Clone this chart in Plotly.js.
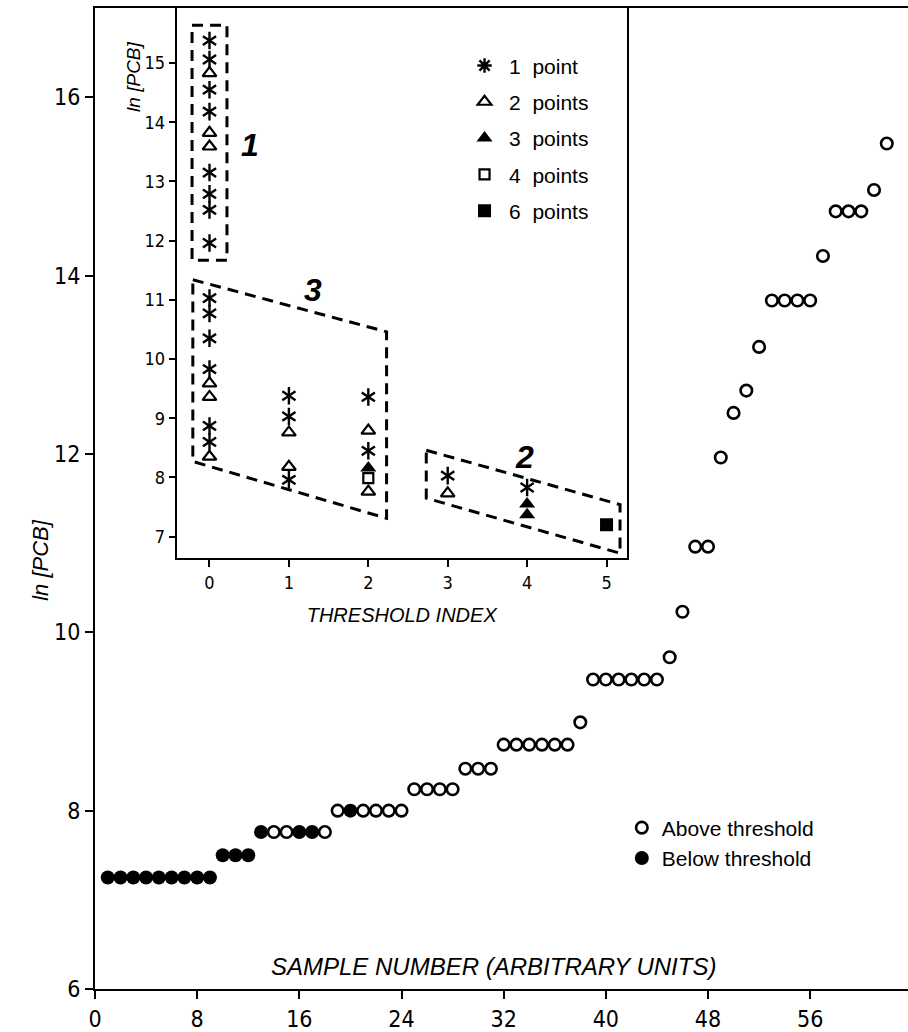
<!DOCTYPE html>
<html>
<head>
<meta charset="utf-8">
<script src="https://cdn.plot.ly/plotly-3.0.1.min.js"></script>
<style>html,body{margin:0;padding:0;background:#fff}#chart{width:908px;height:1032px}</style>
</head>
<body>
<div id="chart"></div>
<script>
// ---------- main chart data ----------
const samples = [1,2,3,4,5,6,7,8,9,10,11,12,13,14,15,16,17,18,19,20,21,22,23,24,25,26,27,28,29,30,31,32,33,34,35,36,37,38,39,40,41,42,43,44,45,46,47,48,49,50,51,52,53,54,55,56,57,58,59,60,61,62];
const lnPCB = [7.25,7.25,7.25,7.25,7.25,7.25,7.25,7.25,7.25,7.50,7.50,7.50,7.76,7.76,7.76,7.76,7.76,7.76,8.00,8.00,8.00,8.00,8.00,8.00,8.24,8.24,8.24,8.24,8.47,8.47,8.47,8.74,8.74,8.74,8.74,8.74,8.74,8.99,9.47,9.47,9.47,9.47,9.47,9.47,9.72,10.23,10.96,10.96,11.96,12.46,12.71,13.20,13.72,13.72,13.72,13.72,14.22,14.72,14.72,14.72,14.96,15.48];
const belowThreshold = [1,1,1,1,1,1,1,1,1,1,1,1,1,0,0,1,1,0,0,1,0,0,0,0,0,0,0,0,0,0,0,0,0,0,0,0,0,0,0,0,0,0,0,0,0,0,0,0,0,0,0,0,0,0,0,0,0,0,0,0,0,0];
const mainLegend = ['Above threshold', 'Below threshold'];
const xTicks = [0,8,16,24,32,40,48,56];
const yTicks = [6,8,10,12,14,16];

// ---------- inset data (threshold index vs ln[PCB]) ----------
const star1Idx = [0,0,0,0,0,0,0,0,0,0,0,0,0,0,1,1,1,2,2,3,4];
const star1Val = [15.38,15.06,14.55,14.18,13.15,12.79,12.52,11.96,11.03,10.77,10.35,9.83,8.87,8.60,9.38,9.03,7.96,9.36,8.45,8.03,7.83];
const tri2Idx = [0,0,0,0,0,0,1,1,2,2,3];
const tri2Val = [14.83,13.82,13.59,9.59,9.36,8.35,8.76,8.18,8.79,7.76,7.73];
const tri3Idx = [2,4,4];
const tri3Val = [8.16,7.55,7.37];
const sq4Idx = [2];
const sq4Val = [7.99];
const sq6Idx = [5];
const sq6Val = [7.20];
const insetLegend = ['1  point','2  points','3  points','4  points','6  points'];
const insetXTicks = [0,1,2,3,4,5];
const insetYTicks = [7,8,9,10,11,12,13,14,15];
const groupLabels = ['1','3','2'];

// ---------- build traces ----------
const aboveX=[], aboveY=[], belowX=[], belowY=[];
samples.forEach((s,i)=>{ if(belowThreshold[i]){belowX.push(s);belowY.push(lnPCB[i]);} else {aboveX.push(s);aboveY.push(lnPCB[i]);} });

const BLK = '#000';
const SANS = '"Liberation Sans",Arial,sans-serif';
const COND = '"Liberation Sans Narrow","DejaVu Sans Condensed","Liberation Sans",sans-serif';
const tickFont = {family:COND, size:23, color:BLK};
const insetTickFont = {family:COND, size:18, color:BLK};
const legendFont = {family:SANS, size:21, color:BLK};

const traces = [
  {type:'scatter', mode:'markers', x:aboveX, y:aboveY, name:mainLegend[0], legend:'legend',
   marker:{symbol:'circle-open', size:11.5, color:BLK, line:{width:2.6, color:BLK}}, xaxis:'x', yaxis:'y', cliponaxis:false},
  {type:'scatter', mode:'markers', x:belowX, y:belowY, name:mainLegend[1], legend:'legend',
   marker:{symbol:'circle', size:14, color:BLK, line:{width:0}}, xaxis:'x', yaxis:'y', cliponaxis:false},
  // six-armed asterisk = y-up + y-down
  {type:'scatter', mode:'markers', x:star1Idx, y:star1Val, showlegend:false, legend:'legend2',
   marker:{symbol:'y-up-open', size:11, color:BLK, line:{width:2.4, color:BLK}}, xaxis:'x2', yaxis:'y2'},
  {type:'scatter', mode:'markers', x:star1Idx, y:star1Val, showlegend:false, legend:'legend2',
   marker:{symbol:'y-down-open', size:11, color:BLK, line:{width:2.4, color:BLK}}, xaxis:'x2', yaxis:'y2'},
  {type:'scatter', mode:'markers', x:[null], y:[null], name:insetLegend[0], legend:'legend2', legendgroup:'a',
   marker:{symbol:'asterisk-open', size:12, color:BLK, line:{width:2.4, color:BLK}}, xaxis:'x2', yaxis:'y2'},
  {type:'scatter', mode:'markers', x:tri2Idx, y:tri2Val, name:insetLegend[1], legend:'legend2', legendgroup:'b',
   marker:{symbol:'triangle-up-open', size:12, color:BLK, line:{width:2.2, color:BLK}}, xaxis:'x2', yaxis:'y2'},
  {type:'scatter', mode:'markers', x:tri3Idx, y:tri3Val, name:insetLegend[2], legend:'legend2', legendgroup:'c',
   marker:{symbol:'triangle-up', size:14, color:BLK, line:{width:0}}, xaxis:'x2', yaxis:'y2'},
  {type:'scatter', mode:'markers', x:sq4Idx, y:sq4Val, name:insetLegend[3], legend:'legend2', legendgroup:'d',
   marker:{symbol:'square-open', size:10, color:BLK, line:{width:2.2, color:BLK}}, xaxis:'x2', yaxis:'y2'},
  {type:'scatter', mode:'markers', x:sq6Idx, y:sq6Val, name:insetLegend[4], legend:'legend2', legendgroup:'e',
   marker:{symbol:'square', size:13, color:BLK, line:{width:0}}, xaxis:'x2', yaxis:'y2'}
];

// dashed group boxes (inset data coordinates)
const dashLine = {color:BLK, width:3, dash:'11px,7px'};
const box1 = 'M -0.22,15.64 L 0.22,15.64 L 0.22,11.67 L -0.22,11.67 Z';
const box3 = 'M -0.21,11.34 L 2.23,10.46 L 2.23,7.31 L -0.21,8.27 Z';
const box2 = 'M 2.73,8.46 L 5.17,7.54 L 5.17,6.72 L 2.73,7.65 Z';
const labelPos = [[0.51,13.62],[1.30,11.16],[3.97,8.35]];

const layout = {
  width:908, height:1032,
  margin:{l:95, r:0, t:8, b:43, autoexpand:false},
  paper_bgcolor:'#fff', plot_bgcolor:'#fff',
  showlegend:true,
  xaxis:{range:[0,63.66], tickvals:xTicks, ticks:'outside', ticklen:8, tickwidth:2, tickcolor:BLK,
         showline:true, linewidth:2, linecolor:BLK, mirror:true, showgrid:false, zeroline:false,
         tickfont:tickFont, fixedrange:true},
  yaxis:{range:[6,17], tickvals:yTicks, ticks:'outside', ticklen:8, tickwidth:2, tickcolor:BLK,
         showline:true, linewidth:2, linecolor:BLK, showgrid:false, zeroline:false,
         tickfont:tickFont, fixedrange:true},
  xaxis2:{domain:[0.1005,0.654], anchor:'y2', range:[-0.413,5.254], tickvals:insetXTicks, ticks:'outside', ticklen:7, tickwidth:2,
          tickcolor:BLK, showline:true, linewidth:2, linecolor:BLK, mirror:true, showgrid:false, zeroline:false,
          tickfont:insetTickFont, title:{text:'THRESHOLD INDEX', font:{family:SANS, size:20, color:BLK, style:'italic'}, standoff:16}},
  yaxis2:{domain:[0.4394,1], anchor:'x2', range:[6.64,15.93], tickvals:insetYTicks, ticks:'outside', ticklen:6, tickwidth:2,
          tickcolor:BLK, showline:true, linewidth:2, linecolor:BLK, mirror:true, showgrid:false, zeroline:false,
          tickfont:insetTickFont},
  legend:{x:0.648, y:0.185, xanchor:'left', yanchor:'top', bgcolor:'rgba(0,0,0,0)', borderwidth:0,
          font:legendFont, traceorder:'normal', tracegroupgap:0},
  legend2:{x:0.449, y:0.962, xanchor:'left', yanchor:'top', bgcolor:'rgba(0,0,0,0)', borderwidth:0, itemwidth:39,
          font:legendFont, traceorder:'grouped', tracegroupgap:6},
  shapes:[
    {type:'path', xref:'x2', yref:'y2', path:box1, line:dashLine},
    {type:'path', xref:'x2', yref:'y2', path:box3, line:dashLine},
    {type:'path', xref:'x2', yref:'y2', path:box2, line:dashLine}
  ],
  annotations:[
    {xref:'paper', yref:'paper', x:0.49, y:0.023, xanchor:'center', yanchor:'middle', showarrow:false,
     text:'SAMPLE NUMBER (ARBITRARY UNITS)', font:{family:SANS, size:24, color:BLK, style:'italic'}},
    {xref:'paper', yref:'paper', x:-0.067, y:0.437, xanchor:'center', yanchor:'middle', showarrow:false, textangle:-90,
     text:'ln [PCB]', font:{family:SANS, size:22, color:BLK, style:'italic'}},
    {xref:'paper', yref:'paper', x:0.047, y:0.93, xanchor:'center', yanchor:'middle', showarrow:false, textangle:-90,
     text:'ln [PCB]', font:{family:SANS, size:19, color:BLK, style:'italic'}}
  ].concat(groupLabels.map((t,i)=>({xref:'x2', yref:'y2', x:labelPos[i][0], y:labelPos[i][1], showarrow:false,
     text:t, font:{family:SANS, size:32, color:BLK, style:'italic', weight:'bold'}})))
};

Plotly.newPlot('chart', traces, layout, {staticPlot:true, displayModeBar:false});
</script>
</body>
</html>
